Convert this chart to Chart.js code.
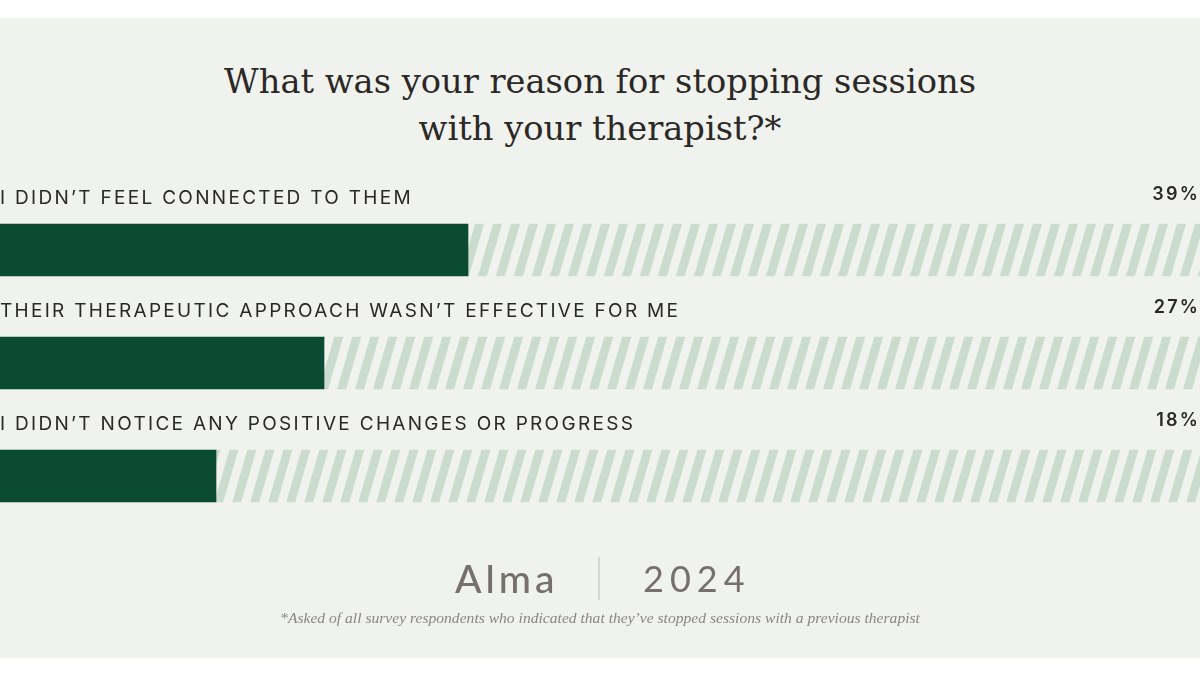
<!DOCTYPE html>
<html>
<head>
<meta charset="utf-8">
<script src="https://cdn.jsdelivr.net/npm/chart.js@4"></script>
<style>
  html, body { margin: 0; padding: 0; background: #fff; }
  #wrap { position: relative; width: 1200px; height: 675px; overflow: hidden; }
  #panel { position: absolute; left: 0; top: 18px; width: 1200px; height: 640px; background: #f0f2ed; }
  #title { position: absolute; left: 0; top: 58px; width: 1200px; text-align: center;
    font-family: "DejaVu Serif", serif; font-size: 33.7px; line-height: 47px; color: #2b2826; }
  #logo { position: absolute; top: 556px; left: 0; width: 1200px; height: 44px; }
  #alma { position: absolute; left: 455px; top: 0; font-family: Lato, sans-serif; font-size: 39px; letter-spacing: 4px; font-weight: 500; color: #75706b; line-height: 44px; }
  #sep { position: absolute; left: 598px; top: 1px; width: 2px; height: 43px; background: #d8d6d1; }
  #year { position: absolute; left: 643px; top: 0; font-family: Lato, sans-serif; font-size: 36px; letter-spacing: 6px; color: #75706b; line-height: 44px; }
  #note { position: absolute; left: 0; top: 609px; width: 1200px; text-align: center;
    font-family: "Liberation Serif", serif; font-style: italic; font-size: 15.6px; color: #8a8580; }
  canvas { position: absolute; left: 0; top: 0; }
</style>
</head>
<body>
<div id="wrap">
  <div id="panel"></div>
  <div id="title">What was your reason for stopping sessions<br>with your therapist?*</div>
  <canvas id="chart" width="1200" height="675"></canvas>
  <div id="logo"><span id="alma">Alma</span><div id="sep"></div><span id="year">2024</span></div>
  <div id="note">*Asked of all survey respondents who indicated that they’ve stopped sessions with a previous therapist</div>
</div>
<script>
const categories = [
  'I DIDN’T FEEL CONNECTED TO THEM',
  'THEIR THERAPEUTIC APPROACH WASN’T EFFECTIVE FOR ME',
  'I DIDN’T NOTICE ANY POSITIVE CHANGES OR PROGRESS'
];
const values = [39, 27, 18];
const remainder = values.map(v => 100 - v);

// diagonal stripe pattern for the empty part of each bar
function stripes() {
  const w = 18, h = 62;
  const c = document.createElement('canvas');
  c.width = w; c.height = h;
  const g = c.getContext('2d');
  g.fillStyle = '#f0f2ed';
  g.fillRect(0, 0, w, h);
  g.fillStyle = '#c9dccd';
  for (let o = -w; o <= w; o += w) {
    g.beginPath();
    g.moveTo(o, h);
    g.lineTo(o + 9, h);
    g.lineTo(o + w + 9, 0);
    g.lineTo(o + w, 0);
    g.closePath();
    g.fill();
  }
  return g.createPattern(c, 'repeat');
}

// labels above each bar
const labelPlugin = {
  id: 'labels',
  afterDatasetsDraw(chart) {
    const ctx = chart.ctx;
    const meta = chart.getDatasetMeta(0);
    ctx.save();
    ctx.fillStyle = '#2a2826';
    ctx.textBaseline = 'alphabetic';
    meta.data.forEach((bar, i) => {
      ctx.font = '400 19px Inter';
      ctx.letterSpacing = '2.3px';
      ctx.textAlign = 'left';
      ctx.fillText(categories[i], 0, bar.y - 46);
      ctx.font = '600 18px Inter';
      ctx.letterSpacing = '2.2px';
      ctx.textAlign = 'right';
      ctx.fillText(values[i] + '%', 1200, bar.y - 50);
    });
    ctx.restore();
  }
};

new Chart(document.getElementById('chart'), {
  type: 'bar',
  data: {
    labels: categories,
    datasets: [
      { data: values, backgroundColor: '#0b4a33', barThickness: 52 },
      { data: remainder, backgroundColor: stripes(), barThickness: 52 }
    ]
  },
  options: {
    indexAxis: 'y',
    responsive: false,
    animation: false,
    layout: { padding: { top: 193.5, bottom: 142.5, left: 0, right: 0 } },
    scales: {
      x: { stacked: true, min: 0, max: 100, display: false },
      y: { stacked: true, display: false }
    },
    plugins: { legend: { display: false }, tooltip: { enabled: false } }
  },
  plugins: [labelPlugin]
});
</script>
</body>
</html>
